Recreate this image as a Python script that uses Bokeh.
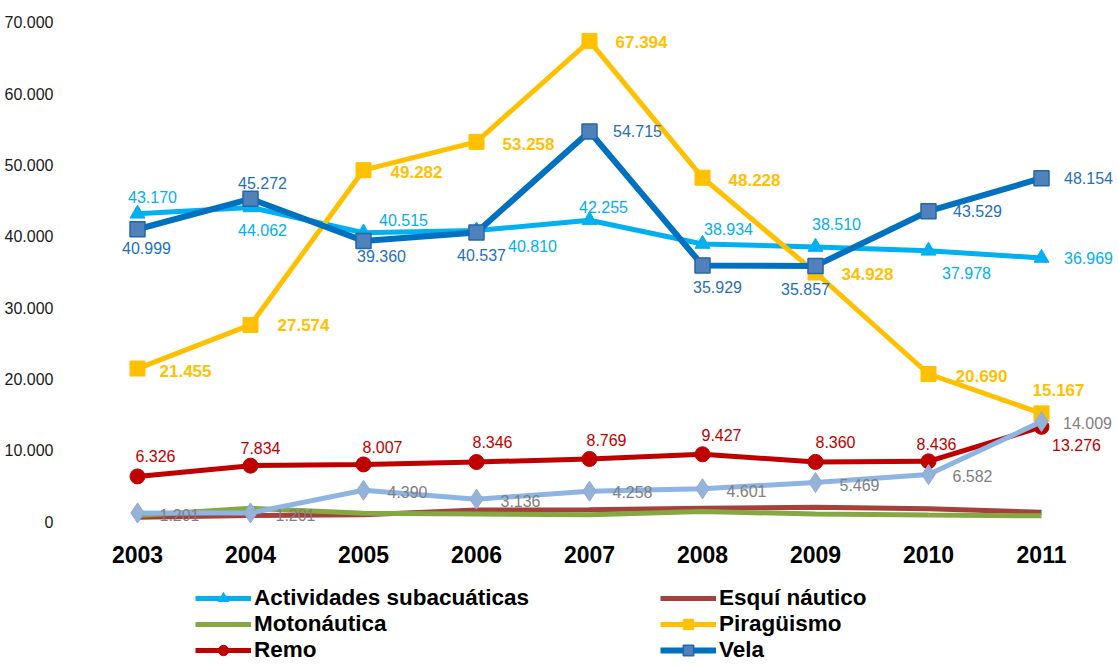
from bokeh.plotting import figure
from bokeh.models import ColumnDataSource, Legend, LegendItem, FixedTicker, Range1d
from bokeh.core.properties import value
from bokeh.embed import file_html
from bokeh.resources import INLINE

# ---------------- data ----------------
years = [2003, 2004, 2005, 2006, 2007, 2008, 2009, 2010, 2011]
actividades_subacuaticas = [43170, 44062, 40515, 40810, 42255, 38934, 38510, 37978, 36969]
esqui_nautico = [600, 850, 950, 1600, 1650, 1850, 2000, 1800, 1300]
motonautica = [850, 1850, 1150, 1050, 950, 1400, 1050, 900, 800]
piraguismo = [21455, 27574, 49282, 53258, 67394, 48228, 34928, 20690, 15167]
remo = [6326, 7834, 8007, 8346, 8769, 9427, 8360, 8436, 13276]
vela = [40999, 45272, 39360, 40537, 54715, 35929, 35857, 43529, 48154]
otros = [1201, 1201, 4390, 3136, 4258, 4601, 5469, 6582, 14009]

y_ticks = [0, 10000, 20000, 30000, 40000, 50000, 60000, 70000]
y_tick_labels = ["0", "10.000", "20.000", "30.000", "40.000", "50.000", "60.000", "70.000"]
x_tick_labels = ["2003", "2004", "2005", "2006", "2007", "2008", "2009", "2010", "2011"]

# ---------------- label placement (screen px) ----------------
act_dx = [15, 12, 40, 56, 14, 26, 21, 38, 47]
act_dy = [-17, 23, -13, 15, -13, -15, -23, 22, 0]
vela_dx = [9, 12, 18, 5, 48, 15, -10, 49, 47]
vela_dy = [19, -16, 15, 22, 0, 22, 23, 0, 0]
pir_dx = [48, 53, 53, 52, 52, 52, 52, 53, 17]
pir_dy = [2, 0, 2, 2, 1, 2, 1, 2, -23]
remo_dx = [18, 10, 19, 16, 17, 19, 20, 8, 35]
remo_dy = [-20, -18, -17, -20, -19, -19, -20, -17, 18]
otros_dx = [42, 45, 44, 44, 43, 44, 44, 44, 46]
otros_dy = [2, 2, 2, 2, 1, 2, 2, 1, 1]


def fmt(v):
    return f"{v:,}".replace(",", ".")


FONT = "Liberation Sans"

p = figure(width=1114, height=665,
           x_range=Range1d(2002.3982, 2011.646),
           y_range=Range1d(-20200, 72104),
           output_backend="svg", toolbar_location=None,
           min_border_left=69, min_border_right=0,
           min_border_top=7, min_border_bottom=0)
p.grid.visible = False
p.outline_line_color = None
p.background_fill_color = "white"
p.border_fill_color = "white"

# axes
p.xaxis.ticker = FixedTicker(ticks=years)
p.xaxis.fixed_location = -1262
p.xaxis.major_label_overrides = {y: t for y, t in zip(years, x_tick_labels)}
p.xaxis.axis_line_color = None
p.xaxis.major_tick_line_color = None
p.xaxis.minor_tick_line_color = None
p.xaxis.major_label_text_font = FONT
p.xaxis.major_label_text_font_style = "bold"
p.xaxis.major_label_text_font_size = "23px"
p.xaxis.major_label_text_color = "#000000"
p.xaxis.major_label_standoff = 10

p.yaxis.ticker = FixedTicker(ticks=y_ticks)
p.yaxis.major_label_overrides = {t: l for t, l in zip(y_ticks, y_tick_labels)}
p.yaxis.axis_line_color = None
p.yaxis.major_tick_line_color = None
p.yaxis.minor_tick_line_color = None
p.yaxis.major_label_text_font = FONT
p.yaxis.major_label_text_font_size = "16px"
p.yaxis.major_label_text_color = "#1a1a1a"
p.yaxis.major_label_standoff = 10


def make_src(vals, dx=None, dy=None):
    d = dict(x=years, y=vals, label=[fmt(v) for v in vals])
    if dx is not None:
        d["dx"] = dx
        d["dy"] = dy
    return ColumnDataSource(d)

s_act = make_src(actividades_subacuaticas, act_dx, act_dy)
s_esq = make_src(esqui_nautico)
s_moto = make_src(motonautica)
s_pir = make_src(piraguismo, pir_dx, pir_dy)
s_remo = make_src(remo, remo_dx, remo_dy)
s_vela = make_src(vela, vela_dx, vela_dy)
s_otros = make_src(otros, otros_dx, otros_dy)

l_act = p.line("x", "y", source=s_act, line_color="#00B0F0", line_width=5)
m_act = p.scatter("x", "y", source=s_act, marker="triangle", size=15,
                  fill_color="#00B0F0", line_color="#00B0F0")
l_esq = p.line("x", "y", source=s_esq, line_color="#A5403C", line_width=5)
l_moto = p.line("x", "y", source=s_moto, line_color="#86A843", line_width=5)
l_pir = p.line("x", "y", source=s_pir, line_color="#FFC000", line_width=5)
m_pir = p.scatter("x", "y", source=s_pir, marker="square", size=15,
                  fill_color="#FFC000", line_color="#FFC000")
l_remo = p.line("x", "y", source=s_remo, line_color="#C00000", line_width=5)
m_remo = p.scatter("x", "y", source=s_remo, marker="circle", size=15,
                   fill_color="#C00000", line_color="#C00000")
l_vela = p.line("x", "y", source=s_vela, line_color="#0070C0", line_width=6)
m_vela = p.scatter("x", "y", source=s_vela, marker="square", size=15,
                   fill_color="#4F81BD", line_color="#2466A8", line_width=1.5)
l_otros = p.line("x", "y", source=s_otros, line_color="#8DB4E2", line_width=5)
m_otros = p.scatter("x", "y", source=s_otros, marker="diamond", size=20,
                    fill_color="#95B3D7", line_color="#8EAADB")


def labels(source, color, bold=False, size="16px"):
    p.text("x", "y", text="label", source=source, x_offset="dx", y_offset="dy",
           text_align="center", text_baseline="middle",
           text_font=value(FONT), text_font_size=size,
           text_font_style="bold" if bold else "normal",
           text_color=color)

labels(s_act, "#00B0F0")
labels(s_pir, "#FFC000", bold=True, size="17px")
labels(s_remo, "#C00000")
labels(s_vela, "#1F6FC0")
labels(s_otros, "#7F7F7F")


def make_legend(items, loc):
    lg = Legend(items=items, location=loc, orientation="vertical",
                glyph_width=56, glyph_height=26, label_height=26, spacing=0,
                padding=0, margin=0, label_standoff=3,
                border_line_color=None, background_fill_alpha=0,
                label_text_font=FONT, label_text_font_style="bold",
                label_text_font_size="22.5px", label_text_color="#000000")
    p.add_layout(lg)
    return lg

make_legend([
    LegendItem(label="Actividades subacuáticas", renderers=[l_act, m_act]),
    LegendItem(label="Motonáutica", renderers=[l_moto]),
    LegendItem(label="Remo", renderers=[l_remo, m_remo]),
], (126, 2))
make_legend([
    LegendItem(label="Esquí náutico", renderers=[l_esq]),
    LegendItem(label="Piragüismo", renderers=[l_pir, m_pir]),
    LegendItem(label="Vela", renderers=[l_vela, m_vela]),
], (591, 2))

open("out.html", "w").write(file_html(p, INLINE))
